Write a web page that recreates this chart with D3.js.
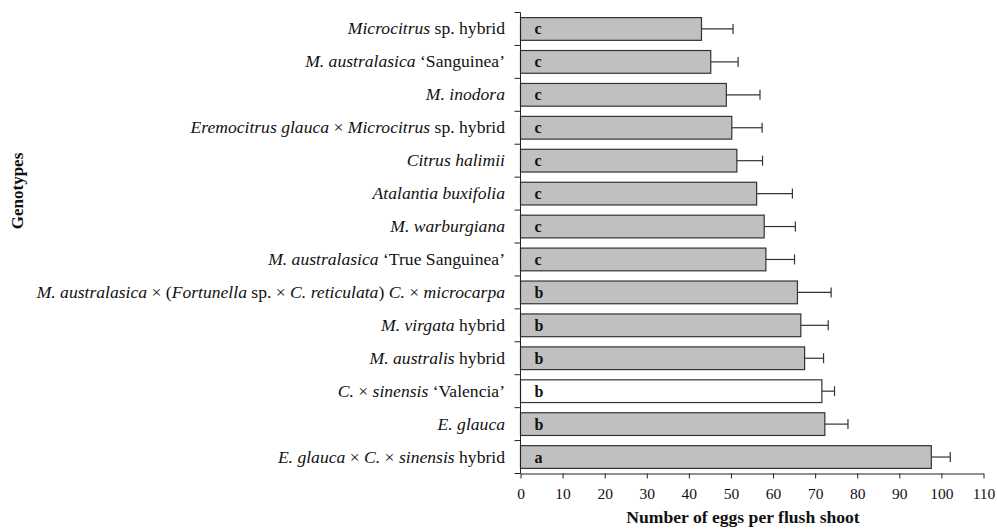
<!DOCTYPE html>
<html>
<head>
<meta charset="utf-8">
<script src="https://cdn.jsdelivr.net/npm/d3@7"></script>
<style>
  html, body { margin: 0; padding: 0; background: #fff; }
  svg { display: block; }
  text { font-family: "Liberation Serif", "Times New Roman", serif; fill: #111; }
</style>
</head>
<body>
<svg id="chart" width="997" height="529"></svg>
<script>
// ---- Data (top to bottom) ----
const categories = [
  "*Microcitrus* sp. hybrid",
  "*M. australasica* ‘Sanguinea’",
  "*M. inodora*",
  "*Eremocitrus glauca* × *Microcitrus* sp. hybrid",
  "*Citrus halimii*",
  "*Atalantia buxifolia*",
  "*M. warburgiana*",
  "*M. australasica* ‘True Sanguinea’",
  "*M. australasica* × (*Fortunella* sp. × *C. reticulata*) *C.* × *microcarpa*",
  "*M. virgata* hybrid",
  "*M. australis* hybrid",
  "*C.* × *sinensis* ‘Valencia’",
  "*E. glauca*",
  "*E. glauca* × *C.* × *sinensis* hybrid"
];
const meanEggs = [43.0, 45.2, 48.9, 50.2, 51.4, 56.1, 57.9, 58.3, 65.8, 66.6, 67.5, 71.6, 72.3, 97.6];
const stdError = [7.5, 6.5, 8.0, 7.2, 6.1, 8.5, 7.4, 6.8, 8.0, 6.5, 4.5, 3.0, 5.5, 4.5];
const groupLetters = ["c","c","c","c","c","c","c","c","b","b","b","b","b","a"];
const isControl = [false,false,false,false,false,false,false,false,false,false,false,true,false,false];
const xTicks = [0,10,20,30,40,50,60,70,80,90,100,110];
const xTitle = "Number of eggs per flush shoot";
const yTitle = "Genotypes";

// ---- Layout ----
const svg = d3.select("#chart");
const mLeft = 520.5, mRight = 983.5, mTop = 12.5, mBottom = 473.5;
const axisColor = "#222";

const x = d3.scaleLinear().domain([0, 110]).range([mLeft, mRight]);
const y = d3.scaleBand().domain(d3.range(categories.length)).range([mTop, mBottom])
  .paddingInner(0.31).paddingOuter(0.155);

const rows = categories.map((c, i) => ({
  i, label: c, v: meanEggs[i], se: stdError[i], letter: groupLetters[i], ctrl: isControl[i]
}));

// Bars
svg.append("g").selectAll("rect").data(rows).join("rect")
  .attr("x", x(0))
  .attr("y", d => y(d.i))
  .attr("width", d => x(d.v) - x(0))
  .attr("height", y.bandwidth())
  .attr("fill", d => d.ctrl ? "#ffffff" : "#c0c0c0")
  .attr("stroke", "#333")
  .attr("stroke-width", 1.2);

// Error bars
const eb = svg.append("g").attr("stroke", "#333").attr("stroke-width", 1.2);
eb.selectAll("line.h").data(rows).join("line").attr("class", "h")
  .attr("x1", d => x(d.v)).attr("x2", d => x(d.v + d.se))
  .attr("y1", d => y(d.i) + y.bandwidth() / 2).attr("y2", d => y(d.i) + y.bandwidth() / 2);
eb.selectAll("line.c").data(rows).join("line").attr("class", "c")
  .attr("x1", d => x(d.v + d.se)).attr("x2", d => x(d.v + d.se))
  .attr("y1", d => y(d.i) + y.bandwidth() / 2 - 5).attr("y2", d => y(d.i) + y.bandwidth() / 2 + 5);

// Group letters
svg.append("g").selectAll("text").data(rows).join("text")
  .attr("x", x(0) + 14)
  .attr("y", d => y(d.i) + y.bandwidth() / 2 + 5.5)
  .attr("font-size", 16).attr("font-weight", "bold")
  .text(d => d.letter);

// X axis
const xAxis = svg.append("g").attr("transform", `translate(0,${mBottom})`)
  .call(d3.axisBottom(x).tickValues(xTicks).tickSize(5).tickPadding(9).tickSizeOuter(0));
xAxis.select(".domain").attr("stroke", axisColor);
xAxis.selectAll(".tick line").attr("stroke", axisColor);
xAxis.selectAll(".tick text").attr("font-size", 15.5).attr("font-family", "Liberation Serif").attr("fill", "#111");

// Y axis line
svg.append("line").attr("x1", mLeft).attr("x2", mLeft).attr("y1", mTop).attr("y2", mBottom)
  .attr("stroke", axisColor);

// Y boundary ticks (between categories)
const step = y.step();
const boundaries = d3.range(categories.length + 1).map(k => mTop + k * step);
svg.append("g").selectAll("line").data(boundaries).join("line")
  .attr("x1", mLeft - 6).attr("x2", mLeft)
  .attr("y1", d => d).attr("y2", d => d)
  .attr("stroke", axisColor);

// Category labels with italic segments
function addRich(sel, str) {
  const parts = str.split("*");
  parts.forEach((p, k) => {
    if (p === "") return;
    sel.append("tspan").attr("font-style", k % 2 === 1 ? "italic" : "normal").text(p);
  });
}
const lab = svg.append("g").selectAll("text").data(rows).join("text")
  .attr("x", mLeft - 15.5)
  .attr("y", d => y(d.i) + y.bandwidth() / 2 + 5.5)
  .attr("text-anchor", "end")
  .attr("font-size", 17.6);
lab.each(function(d) { addRich(d3.select(this), d.label); });

// Axis titles
svg.append("text").attr("x", 743).attr("y", 523).attr("text-anchor", "middle")
  .attr("font-size", 17.6).attr("font-weight", "bold").text(xTitle);
svg.append("text").attr("transform", "translate(23,191) rotate(-90)").attr("text-anchor", "middle")
  .attr("font-size", 17).attr("font-weight", "bold").text(yTitle);
</script>
</body>
</html>
